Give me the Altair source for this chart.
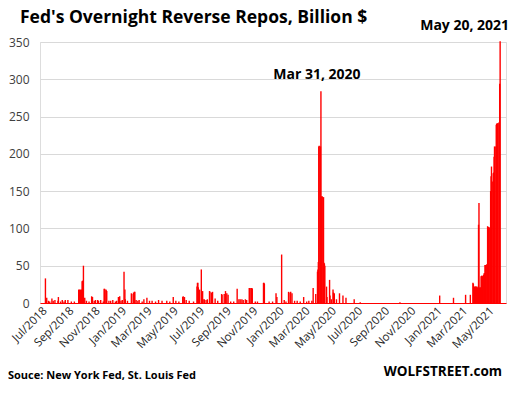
import altair as alt
import pandas as pd

# ---- data (Billion $) ----
dates = [
    "2018-07-02", "2018-07-03", "2018-07-05", "2018-07-09", "2018-07-12", "2018-07-17", "2018-07-20",
    "2018-07-24", "2018-07-31", "2018-08-01", "2018-08-06", "2018-08-10", "2018-08-14", "2018-08-17",
    "2018-08-23", "2018-08-31", "2018-09-07", "2018-09-17", "2018-09-18", "2018-09-19", "2018-09-20",
    "2018-09-21", "2018-09-24", "2018-09-25", "2018-09-26", "2018-09-27", "2018-09-28", "2018-10-01",
    "2018-10-05", "2018-10-11", "2018-10-17", "2018-10-18", "2018-10-19", "2018-10-23", "2018-10-26",
    "2018-10-31", "2018-11-02", "2018-11-07", "2018-11-13", "2018-11-15", "2018-11-16", "2018-11-19",
    "2018-11-20", "2018-11-21", "2018-11-26", "2018-11-30", "2018-12-05", "2018-12-11", "2018-12-14",
    "2018-12-18", "2018-12-19", "2018-12-20", "2018-12-21", "2018-12-24", "2018-12-27", "2018-12-31",
    "2019-01-02", "2019-01-03", "2019-01-08", "2019-01-17", "2019-01-18", "2019-01-22", "2019-01-24",
    "2019-01-25", "2019-01-28", "2019-02-01", "2019-02-04", "2019-02-11", "2019-02-15", "2019-02-22",
    "2019-02-28", "2019-03-06", "2019-03-14", "2019-03-21", "2019-03-29", "2019-04-09", "2019-04-16",
    "2019-04-24", "2019-04-30", "2019-05-07", "2019-05-16", "2019-05-17", "2019-05-20", "2019-05-24",
    "2019-05-31", "2019-06-10", "2019-06-18", "2019-06-19", "2019-06-20", "2019-06-21", "2019-06-24",
    "2019-06-28", "2019-07-01", "2019-07-02", "2019-07-05", "2019-07-09", "2019-07-12", "2019-07-17",
    "2019-07-18", "2019-07-22", "2019-07-24", "2019-07-30", "2019-08-05", "2019-08-14", "2019-08-15",
    "2019-08-20", "2019-08-23", "2019-08-26", "2019-08-29", "2019-09-04", "2019-09-11", "2019-09-19",
    "2019-09-23", "2019-09-26", "2019-09-30", "2019-10-03", "2019-10-08", "2019-10-11", "2019-10-17",
    "2019-10-18", "2019-10-21", "2019-10-22", "2019-10-23", "2019-10-24", "2019-10-31", "2019-11-05",
    "2019-11-19", "2019-11-20", "2019-11-21", "2019-12-02", "2019-12-10", "2019-12-18", "2019-12-20",
    "2019-12-31", "2020-01-06", "2020-01-10", "2020-01-16", "2020-01-17", "2020-01-21", "2020-01-24",
    "2020-01-30", "2020-02-05", "2020-02-12", "2020-02-20", "2020-02-27", "2020-03-03", "2020-03-10",
    "2020-03-13", "2020-03-19", "2020-03-23", "2020-03-24", "2020-03-25", "2020-03-26", "2020-03-27",
    "2020-03-30", "2020-03-31", "2020-04-01", "2020-04-02", "2020-04-03", "2020-04-06", "2020-04-07",
    "2020-04-08", "2020-04-09", "2020-04-13", "2020-04-14", "2020-04-20", "2020-04-21", "2020-04-24",
    "2020-04-28", "2020-04-29", "2020-05-01", "2020-05-06", "2020-05-13", "2020-05-21", "2020-05-28",
    "2020-06-16", "2020-06-30", "2020-09-30", "2020-12-31", "2021-02-01", "2021-03-01", "2021-03-12",
    "2021-03-18", "2021-03-19", "2021-03-22", "2021-03-23", "2021-03-24", "2021-03-25", "2021-03-26",
    "2021-03-29", "2021-03-30", "2021-03-31", "2021-04-01", "2021-04-02", "2021-04-05", "2021-04-06",
    "2021-04-07", "2021-04-08", "2021-04-09", "2021-04-12", "2021-04-13", "2021-04-14", "2021-04-15",
    "2021-04-16", "2021-04-19", "2021-04-20", "2021-04-21", "2021-04-22", "2021-04-23", "2021-04-26",
    "2021-04-27", "2021-04-28", "2021-04-29", "2021-04-30", "2021-05-03", "2021-05-04", "2021-05-05",
    "2021-05-06", "2021-05-07", "2021-05-10", "2021-05-11", "2021-05-12", "2021-05-13", "2021-05-14",
    "2021-05-17", "2021-05-18", "2021-05-19", "2021-05-20",
]
values = [
    33, 4, 7, 3, 2, 6, 3,
    4, 3, 8, 2, 4, 2, 4,
    4, 2, 2, 18, 17, 18, 17,
    18, 18, 29, 30, 29, 50, 7,
    3, 2, 9, 6, 8, 3, 4,
    4, 3, 4, 2, 19, 19, 18,
    17, 16, 3, 3, 4, 2, 3,
    8, 8, 7, 9, 3, 4, 42,
    18, 5, 3, 13, 12, 14, 15,
    15, 4, 3, 4, 2, 5, 7,
    3, 3, 2, 4, 3, 3, 2,
    8, 3, 2, 8, 9, 8, 4,
    3, 2, 22, 27, 27, 21, 18,
    45, 16, 5, 5, 4, 5, 16,
    15, 14, 15, 6, 3, 12, 11,
    12, 16, 13, 11, 2, 2, 19,
    5, 5, 5, 4, 5, 4, 20,
    20, 20, 20, 20, 19, 2, 2,
    27, 27, 26, 2, 2, 13, 8,
    65, 4, 2, 15, 14, 15, 13,
    3, 3, 2, 8, 2, 3, 3,
    20, 12, 42, 45, 55, 210, 211,
    210, 284, 143, 142, 143, 142, 54,
    53, 50, 22, 8, 31, 10, 5,
    18, 14, 13, 5, 13, 10, 7,
    5, 1, 1, 10, 7, 11, 11,
    27, 26, 22, 22, 21, 22, 22,
    21, 22, 105, 134, 21, 21, 36,
    36, 37, 36, 38, 40, 40, 51,
    51, 52, 51, 103, 101, 102, 101,
    102, 150, 170, 183, 163, 174, 175,
    196, 210, 210, 239, 240, 241, 241,
    242, 241, 294, 351,
]

tick_years = [2018, 2018, 2018, 2019, 2019, 2019, 2019, 2019, 2019,
              2020, 2020, 2020, 2020, 2020, 2020, 2021, 2021, 2021]
tick_months = [7, 9, 11, 1, 3, 5, 7, 9, 11, 1, 3, 5, 7, 9, 11, 1, 3, 5]
y_ticks = [0, 50, 100, 150, 200, 250, 300, 350]

ann_dates = ["2020-03-31", "2021-05-20"]
ann_values = [284, 351]
ann_labels = ["Mar 31, 2020", "May 20, 2021"]

title_text = "Fed's Overnight Reverse Repos, Billion $"
source_text = "Souce: New York Fed, St. Louis Fed"
brand_text = "WOLFSTREET.com"

FONT = "Open Sans"

df = pd.DataFrame({"date": pd.to_datetime(dates), "value": values})
ann1 = pd.DataFrame({"date": pd.to_datetime(ann_dates[:1]), "value": ann_values[:1], "label": ann_labels[:1]})
ann2 = pd.DataFrame({"date": pd.to_datetime(ann_dates[1:]), "value": ann_values[1:], "label": ann_labels[1:]})

x_scale = alt.Scale(domain=[alt.DateTime(year=2018, month=7, date=1),
                            alt.DateTime(year=2021, month=5, date=22)], nice=False)
y_scale = alt.Scale(domain=[0, 350], nice=False)

x_axis = alt.Axis(
    values=[alt.DateTime(year=y, month=m, date=1) for y, m in zip(tick_years, tick_months)],
    format="%b/%Y", labelAngle=-45, labelAlign="right", labelBaseline="middle",
    labelPadding=6, labelFlush=False, labelOverlap=False, labelBound=False, ticks=False, grid=False,
    domainColor="#ff0000", domainWidth=1, labelFont=FONT, labelFontSize=11.5,
    labelColor="#262626",
)
y_axis = alt.Axis(
    values=y_ticks, domain=False, ticks=False, grid=True, gridColor="#d9d9d9",
    labelPadding=11, labelFont=FONT, labelFontSize=12, labelColor="#404040",
)
x_enc = alt.X("date:T", scale=x_scale, title=None, axis=x_axis)
y_enc = alt.Y("value:Q", scale=y_scale, title=None, axis=y_axis)

bars = alt.Chart(df).mark_bar(color="#ff0000", size=1.4).encode(x=x_enc, y=y_enc)

t1 = alt.Chart(ann1).mark_text(font=FONT, fontWeight="bold", fontSize=14, baseline="alphabetic",
                               align="center", dx=-4, dy=-12, color="black").encode(
    x=x_enc, y=y_enc, text="label:N")
t2 = alt.Chart(ann2).mark_text(font=FONT, fontWeight="bold", fontSize=14, baseline="alphabetic",
                               align="right", dx=9, dy=-11, color="black").encode(
    x=x_enc, y=y_enc, text="label:N")

ttl = alt.Chart(pd.DataFrame({"t": [title_text]})).mark_text(
    font=FONT, fontWeight="bold", fontSize=17.5, align="left", baseline="alphabetic", color="black"
).encode(text="t:N", x=alt.value(-20), y=alt.value(-19))
src = alt.Chart(pd.DataFrame({"t": [source_text]})).mark_text(
    font=FONT, fontWeight="bold", fontSize=11, align="left", baseline="alphabetic", color="black"
).encode(text="t:N", x=alt.value(-32), y=alt.value(336.5))
brand = alt.Chart(pd.DataFrame({"t": [brand_text]})).mark_text(
    font=FONT, fontWeight="bold", fontSize=13.5, align="right", baseline="alphabetic", color="black"
).encode(text="t:N", x=alt.value(462), y=alt.value(334))

chart = alt.layer(bars, t1, t2, ttl, src, brand).properties(
    width=466, height=261,
    autosize=alt.AutoSizeParams(type="none"),
    padding={"left": 32, "top": 34, "right": 10, "bottom": 78},
).configure_view(stroke=None).configure_axis(labelOverlap=False).configure(background="white")

chart.save("out.html", embed_options={"renderer": "svg", "actions": False})
